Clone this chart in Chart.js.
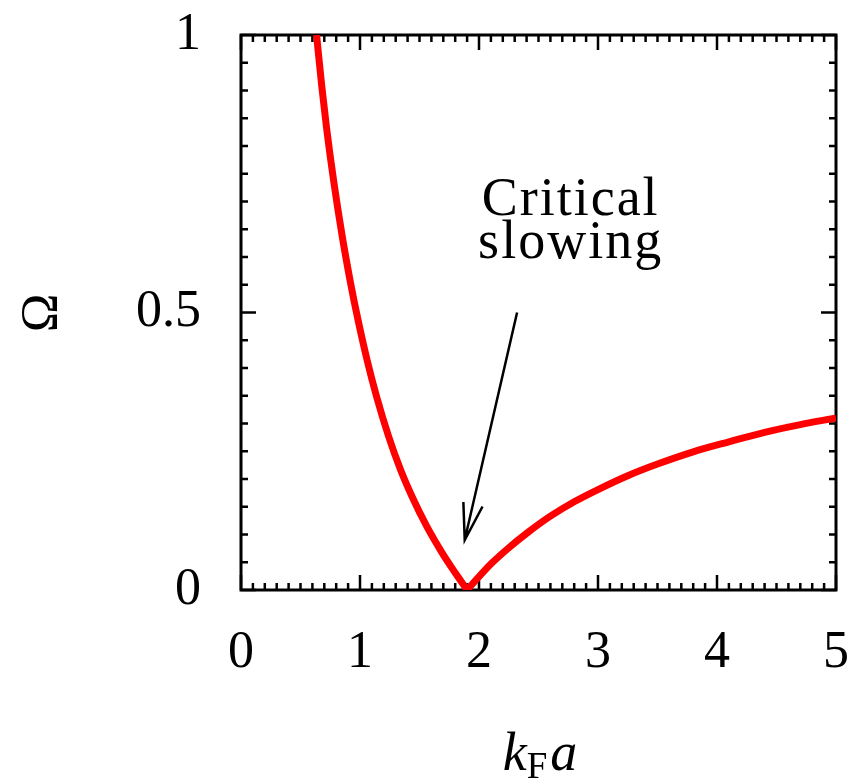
<!DOCTYPE html>
<html>
<head>
<meta charset="utf-8">
<script src="https://cdn.jsdelivr.net/npm/chart.js@4.4.1/dist/chart.umd.min.js"></script>
<style>
  html, body { margin: 0; padding: 0; background: #fff; }
  canvas { display: block; }
</style>
</head>
<body>
<canvas id="omegaChart" width="867" height="779"></canvas>
<script>
// values: Omega vs kF*a, two branches meeting at the minimum
var leftBranchX     = [0.635, 0.68, 0.72, 0.78, 0.85, 0.92, 0.98, 1.06, 1.14, 1.24, 1.34, 1.44, 1.56, 1.69, 1.80, 1.90];
var leftBranchOmega = [1.00, 0.905, 0.831, 0.735, 0.638, 0.554, 0.490, 0.414, 0.348, 0.277, 0.217, 0.167, 0.115, 0.067, 0.031, 0.0];
var rightBranchX     = [1.90, 2.00, 2.11, 2.25, 2.40, 2.60, 2.80, 3.00, 3.25, 3.50, 3.80, 4.10, 4.40, 4.70, 5.00];
var rightBranchOmega = [0.0, 0.024, 0.049, 0.076, 0.102, 0.133, 0.159, 0.181, 0.206, 0.227, 0.249, 0.267, 0.284, 0.298, 0.310];

var xTickValues = [0, 1, 2, 3, 4, 5];
var yTickValues = [0, 0.5, 1];
var yTickLabels = ['0', '0.5', '1'];

var noteLines = ['Critical', 'slowing'];
var arrowFrom = [2.32, 0.50];   // data coords
var arrowTo = [1.88, 0.09];

var serif = "'Liberation Serif', 'DejaVu Serif', serif";

function toPoints(xs, ys) {
    return xs.map(function (x, i) { return { x: x, y: ys[i] }; });
}

// frame, inward ticks, arrow, note and axis titles
var decorations = {
    id: 'decorations',
    beforeDatasetsDraw: function (chart) {
        var ctx = chart.ctx, a = chart.chartArea;
        var xs = chart.scales.x, ys = chart.scales.y;
        ctx.save();
        ctx.strokeStyle = '#000';
        ctx.lineWidth = 2.5;
        ctx.beginPath();
        for (var i = 0; i <= 50; i++) {
            var px = xs.getPixelForValue(i / 10);
            var len = (i % 10 === 0) ? 15 : 7;
            ctx.moveTo(px, a.bottom); ctx.lineTo(px, a.bottom - len);
            ctx.moveTo(px, a.top); ctx.lineTo(px, a.top + len);
        }
        for (var j = 0; j <= 20; j++) {
            var py = ys.getPixelForValue(j / 20);
            var l2 = (j % 10 === 0) ? 15 : 7;
            ctx.moveTo(a.left, py); ctx.lineTo(a.left + l2, py);
            ctx.moveTo(a.right, py); ctx.lineTo(a.right - l2, py);
        }
        ctx.stroke();
        ctx.lineWidth = 3;
        ctx.strokeRect(a.left, a.top, a.right - a.left, a.bottom - a.top);
        ctx.restore();
    },
    afterDraw: function (chart) {
        var ctx = chart.ctx;
        var xs = chart.scales.x, ys = chart.scales.y;
        ctx.save();
        ctx.fillStyle = '#000';
        ctx.strokeStyle = '#000';

        // arrow
        var x1 = xs.getPixelForValue(arrowFrom[0]), y1 = ys.getPixelForValue(arrowFrom[1]);
        var x2 = xs.getPixelForValue(arrowTo[0]), y2 = ys.getPixelForValue(arrowTo[1]);
        var ang = Math.atan2(y1 - y2, x1 - x2);
        var head = 38, spread = 15 * Math.PI / 180;
        ctx.lineWidth = 2.5;
        ctx.beginPath();
        ctx.moveTo(x1, y1); ctx.lineTo(x2, y2);
        ctx.moveTo(x2 + head * Math.cos(ang - spread), y2 + head * Math.sin(ang - spread));
        ctx.lineTo(x2, y2);
        ctx.lineTo(x2 + head * Math.cos(ang + spread), y2 + head * Math.sin(ang + spread));
        ctx.stroke();

        // note text
        ctx.save();
        ctx.font = '54px ' + serif;
        ctx.letterSpacing = '2px';
        ctx.textAlign = 'center';
        ctx.textBaseline = 'alphabetic';
        var nx = xs.getPixelForValue(2.77);
        ctx.fillText(noteLines[0], nx, 215);
        ctx.fillText(noteLines[1], nx, 258);
        ctx.restore();

        // y title (rotated Omega)
        ctx.save();
        ctx.font = '52px ' + serif;
        ctx.textAlign = 'center';
        ctx.translate(43, 313);
        ctx.rotate(-Math.PI / 2);
        ctx.textBaseline = 'middle';
        ctx.fillText('\u03A9', 0, 0);
        ctx.restore();

        // x title k_F a
        var bigIt = 'italic 54px ' + serif, small = '37px ' + serif;
        ctx.textAlign = 'left';
        ctx.font = bigIt; var wk = ctx.measureText('k').width;
        ctx.font = small; var wf = ctx.measureText('F').width;
        ctx.font = bigIt; var wa = ctx.measureText('a').width;
        var total = wk + wf + wa + 3;
        var sx = 540 - total / 2, base = 770;
        ctx.font = bigIt; ctx.fillText('k', sx, base);
        ctx.font = small; ctx.fillText('F', sx + wk, base + 8);
        ctx.font = bigIt; ctx.fillText('a', sx + wk + wf + 3, base);
        ctx.restore();
    }
};

var ctx = document.getElementById('omegaChart');
var omegaChart = new Chart(ctx, {
    type: 'line',
    data: {
        datasets: [{
            data: toPoints(leftBranchX, leftBranchOmega),
            borderColor: '#ff0000',
            borderWidth: 7,
            pointRadius: 0,
            cubicInterpolationMode: 'monotone',
            fill: false
        }, {
            data: toPoints(rightBranchX, rightBranchOmega),
            borderColor: '#ff0000',
            borderWidth: 7,
            pointRadius: 0,
            cubicInterpolationMode: 'monotone',
            fill: false
        }]
    },
    options: {
        responsive: false,
        animation: false,
        events: [],
        layout: { padding: { top: 35, right: 31, left: 0, bottom: 0 } },
        plugins: { legend: { display: false }, tooltip: { enabled: false } },
        scales: {
            x: {
                type: 'linear',
                min: 0, max: 5,
                afterFit: function (s) {
                    s.height = 189;
                    s.paddingLeft = 0; s.paddingRight = 0;
                },
                afterBuildTicks: function (s) { s.ticks = xTickValues.map(function (v) { return { value: v }; }); },
                grid: { display: false, drawTicks: false },
                border: { display: false },
                ticks: {
                    color: '#000',
                    font: { family: serif, size: 52 },
                    padding: 32,
                    maxRotation: 0,
                    autoSkip: false
                }
            },
            y: {
                min: 0, max: 1,
                afterFit: function (s) {
                    s.width = 241;
                    s.paddingTop = 0; s.paddingBottom = 0;
                },
                afterBuildTicks: function (s) { s.ticks = yTickValues.map(function (v) { return { value: v }; }); },
                grid: { display: false, drawTicks: false },
                border: { display: false },
                ticks: {
                    color: '#000',
                    font: { family: serif, size: 52 },
                    padding: 40,
                    autoSkip: false,
                    callback: function (v, i) { return yTickLabels[i]; }
                }
            }
        }
    },
    plugins: [decorations]
});
</script>
</body>
</html>
